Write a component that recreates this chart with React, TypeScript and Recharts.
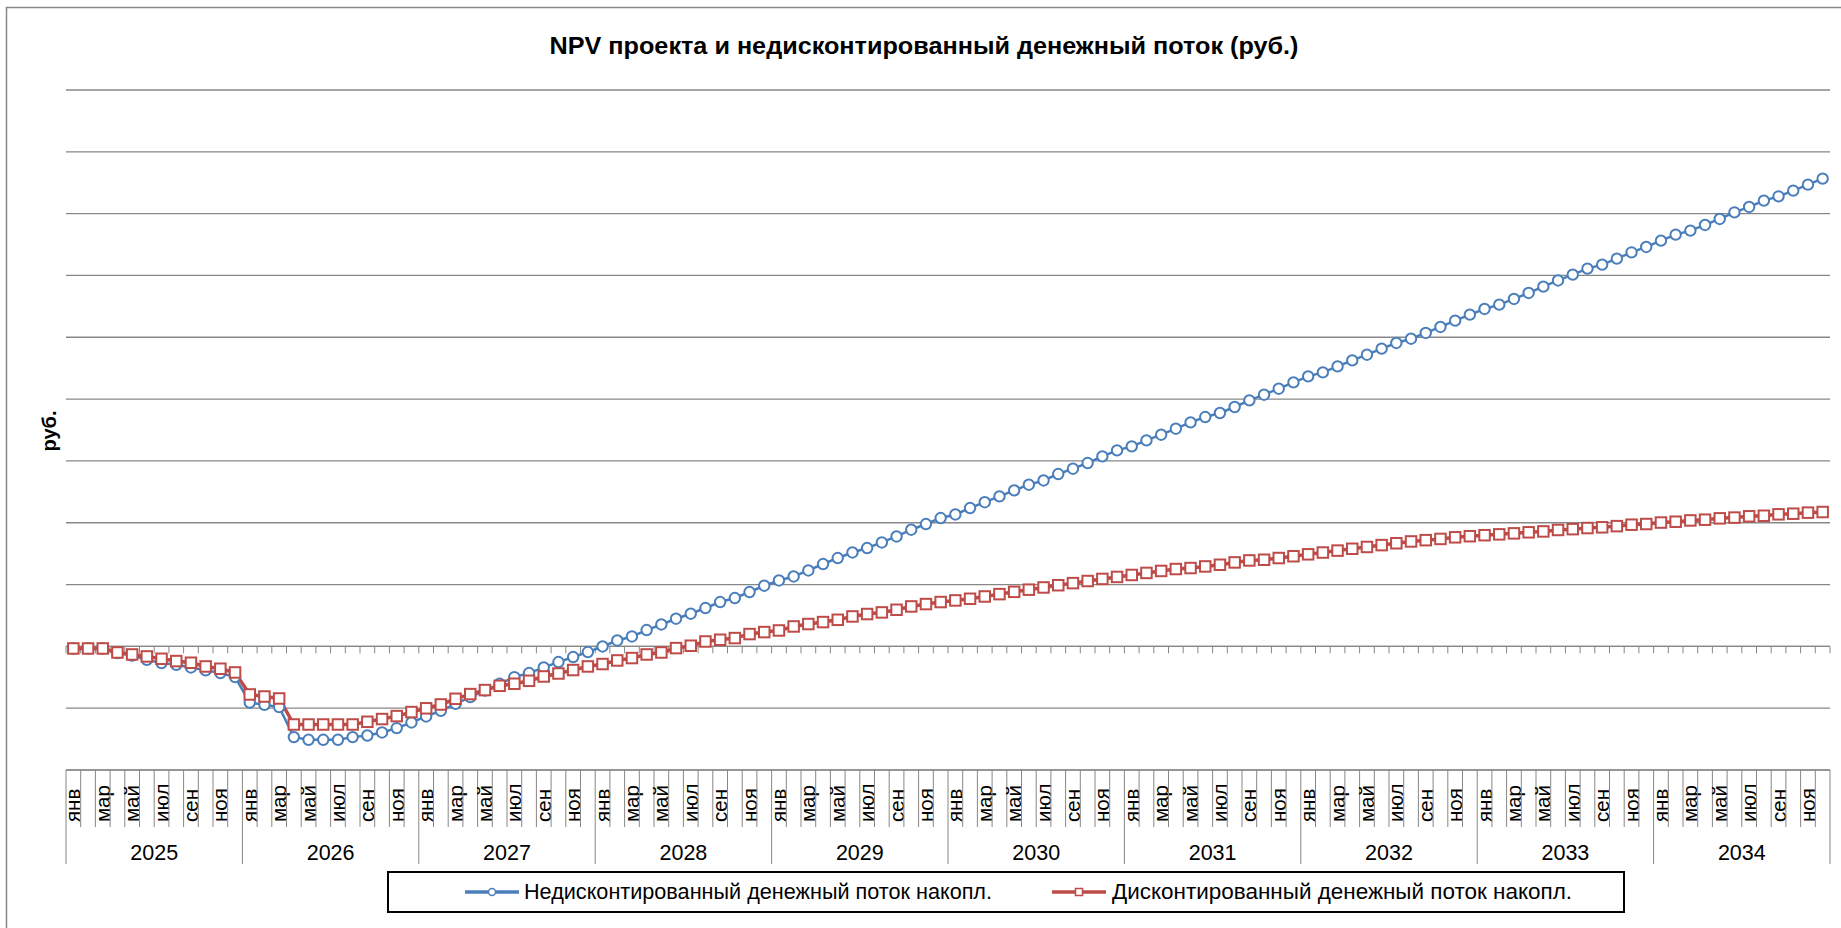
import React from "react";
import { LineChart, Line, XAxis, YAxis, CartesianGrid, ReferenceLine } from "recharts";

// values in млн руб., one per month, Jan 2025 .. Dec 2034
const years = ["2025", "2026", "2027", "2028", "2029", "2030", "2031", "2032", "2033", "2034"];
const monthNames = ["янв", "фев", "мар", "апр", "май", "июн", "июл", "авг", "сен", "окт", "ноя", "дек"];

const undiscounted = [
  -0.34, -0.34, -0.34, -1.08, -1.49, -2.17, -2.7, -2.98, -3.41, -3.87, -4.32, -4.97,
  -9.08, -9.45, -9.82, -14.68, -15.11, -15.11, -15.11, -14.68, -14.42, -13.93, -13.22, -12.31,
  -11.34, -10.42, -9.29, -8.2, -7.14, -6.05, -4.97, -4.32, -3.41, -2.54, -1.73, -0.92,
  -0.02, 0.95, 1.6, 2.64, 3.54, 4.47, 5.28, 6.2, 7.17, 7.82, 8.79, 9.81,
  10.66, 11.31, 12.28, 13.32, 14.29, 15.19, 15.91, 16.81, 17.78, 18.87, 19.79, 20.76,
  21.34, 22.38, 23.32, 24.26, 25.23, 26.15, 26.84, 27.88, 28.74, 29.66, 30.73, 31.7,
  32.35, 33.32, 34.24, 35.21, 36.23, 37.1, 37.75, 38.72, 39.79, 40.71, 41.68, 42.7,
  43.67, 44.32, 45.29, 46.26, 47.18, 48.16, 49.08, 49.77, 50.7, 51.67, 52.69, 53.66,
  54.58, 55.28, 56.2, 57.17, 58.19, 59.19, 60.13, 61.1, 61.75, 62.72, 63.74, 64.61,
  65.63, 66.6, 67.25, 68.17, 69.14, 70.21, 71.08, 72.1, 72.8, 73.72, 74.69, 75.66,
];

const discounted = [
  -0.34, -0.34, -0.34, -0.99, -1.31, -1.63, -2.01, -2.38, -2.65, -3.25, -3.62, -4.22,
  -7.78, -8.11, -8.43, -12.64, -12.64, -12.64, -12.64, -12.64, -12.2, -11.76, -11.28, -10.63,
  -10.02, -9.4, -8.48, -7.72, -7.07, -6.38, -6.05, -5.57, -4.87, -4.39, -3.83, -3.25,
  -2.86, -2.28, -1.89, -1.31, -0.99, -0.28, 0.1, 0.79, 1.07, 1.34, 1.99, 2.31,
  2.57, 3.22, 3.61, 3.93, 4.3, 4.84, 5.23, 5.49, 5.92, 6.46, 6.84, 7.17,
  7.43, 7.7, 8.07, 8.45, 8.82, 9.17, 9.53, 9.89, 10.23, 10.57, 10.91, 11.23,
  11.55, 11.88, 12.2, 12.51, 12.67, 12.93, 13.2, 13.58, 13.9, 14.01, 14.29, 14.58,
  14.89, 15.18, 15.49, 15.79, 16.08, 16.38, 16.68, 16.97, 17.18, 17.38, 17.64, 17.82,
  17.98, 18.12, 18.28, 18.45, 18.59, 18.83, 18.96, 19.14, 19.26, 19.45, 19.68, 19.79,
  20.03, 20.16, 20.37, 20.49, 20.71, 20.83, 21.04, 21.13, 21.36, 21.46, 21.63, 21.73,
];

const yTicks = [-20, -10, 0, 10, 20, 30, 40, 50, 60, 70, 80, 90];

const data = undiscounted.map((v, i) => ({
  key: years[Math.floor(i / 12)] + "-" + (i % 12),
  month: monthNames[i % 12],
  year: years[Math.floor(i / 12)],
  undiscounted: v,
  discounted: discounted[i],
}));

const FONT = "'Liberation Sans', Arial, sans-serif";
const GRID = "#878787";
const BLUE = "#4A7EBB";
const RED = "#BE4B48";

const MonthTick = (props) => {
  const { x, y, payload } = props;
  const i = payload.index;
  const half = payload.offset || 7.35;
  const left = x - half;
  const row = data[i];
  const yearStart = i % 12 === 0;
  return (
    <g>
      <line x1={left} x2={left} y1={y} y2={yearStart ? y + 94 : y + 57} stroke={GRID} strokeWidth={1} />
      {i === data.length - 1 && (
        <line x1={x + half} x2={x + half} y1={y} y2={y + 94} stroke={GRID} strokeWidth={1} />
      )}
      {i % 2 === 0 && (
        <text
          transform={`translate(${x + 7},${y + 52}) rotate(-90)`}
          fontSize={20.5}
          fontFamily={FONT}
          fill="#000"
        >
          {row.month}
        </text>
      )}
      {yearStart && (
        <text x={left + half * 12} y={y + 90} textAnchor="middle" fontSize={21.5} fontFamily={FONT} fill="#000">
          {row.year}
        </text>
      )}
    </g>
  );
};

// value axis has no labels in the original, keep the ticks for the grid
const NoLabel = () => <g />;

// zero line with small tick marks between months
const ZeroAxis = (props) => {
  const { x1, y1, x2, y2 } = props;
  const n = data.length;
  const ticks = [];
  for (let k = 0; k <= n; k++) {
    const tx = x1 + (k * (x2 - x1)) / n;
    ticks.push(<line key={k} x1={tx} x2={tx} y1={y1} y2={y1 + 7} stroke={GRID} strokeWidth={1} />);
  }
  return (
    <g>
      <line x1={x1} y1={y1} x2={x2} y2={y2} stroke={GRID} strokeWidth={1.3} />
      {ticks}
    </g>
  );
};

const SquareDot = (props) => {
  const { cx, cy, index } = props;
  if (cx == null || cy == null) return <g key={index} />;
  return (
    <rect key={index} x={cx - 5.25} y={cy - 5.25} width={10.5} height={10.5} fill="#fff" stroke={RED} strokeWidth={2} />
  );
};

export default function App() {
  return (
    <div style={{ position: "absolute", left: 0, top: 0, width: 1841, height: 928, background: "#fff" }}>
      <LineChart width={1841} height={928} data={data} margin={{ top: 90, right: 11, left: 0, bottom: 0 }}>
        <CartesianGrid vertical={false} horizontal={true} stroke={GRID} strokeWidth={1.3} />
        <XAxis
          dataKey="key"
          scale="band"
          interval={0}
          height={158}
          tickLine={false}
          tickSize={0}
          tickMargin={0}
          axisLine={{ stroke: GRID }}
          tick={MonthTick}
        />
        <YAxis
          type="number"
          domain={[-20, 90]}
          ticks={yTicks}
          interval={0}
          width={66}
          tick={NoLabel}
          axisLine={false}
          tickLine={false}
        />
        <ReferenceLine y={0} stroke={GRID} shape={ZeroAxis} />
        <Line
          type="linear"
          dataKey="undiscounted"
          name="Недисконтированный денежный поток накопл."
          stroke={BLUE}
          strokeWidth={2.5}
          dot={{ r: 5.2, fill: "#fff", stroke: BLUE, strokeWidth: 2 }}
          activeDot={false}
          isAnimationActive={false}
        />
        <Line
          type="linear"
          dataKey="discounted"
          name="Дисконтированный денежный поток накопл."
          stroke={RED}
          strokeWidth={3.5}
          dot={SquareDot}
          activeDot={false}
          isAnimationActive={false}
        />
      </LineChart>

      <svg
        width={1841}
        height={928}
        style={{ position: "absolute", left: 0, top: 0, pointerEvents: "none" }}
      >
        <path d="M6.5,928 V7.5 H1841" fill="none" stroke={GRID} strokeWidth={1.5} />
        <text
          x={924}
          y={54}
          textAnchor="middle"
          fontSize={24}
          fontWeight="bold"
          fontFamily={FONT}
          fill="#000"
          textLength={749}
          lengthAdjust="spacingAndGlyphs"
        >
          NPV проекта и недисконтированный денежный поток (руб.)
        </text>
        <text
          transform="translate(56,431) rotate(-90)"
          textAnchor="middle"
          fontSize={20}
          fontWeight="bold"
          fontFamily={FONT}
          fill="#000"
        >
          руб.
        </text>
        <rect x={388} y={872} width={1236} height={40} fill="#fff" stroke="#000" strokeWidth={2} />
        <line x1={465} x2={519} y1={892} y2={892} stroke={BLUE} strokeWidth={3.5} />
        <circle cx={492} cy={892} r={3.5} fill="#fff" stroke={BLUE} strokeWidth={1.5} />
        <text x={524} y={899} fontSize={21.5} fontFamily={FONT} fill="#000" textLength={468} lengthAdjust="spacingAndGlyphs">
          Недисконтированный денежный поток накопл.
        </text>
        <line x1={1052} x2={1106} y1={892} y2={892} stroke={RED} strokeWidth={3.5} />
        <rect x={1075.5} y={888.5} width={7} height={7} fill="#fff" stroke={RED} strokeWidth={1.5} />
        <text x={1112} y={899} fontSize={21.5} fontFamily={FONT} fill="#000" textLength={460} lengthAdjust="spacingAndGlyphs">
          Дисконтированный денежный поток накопл.
        </text>
      </svg>
    </div>
  );
}
